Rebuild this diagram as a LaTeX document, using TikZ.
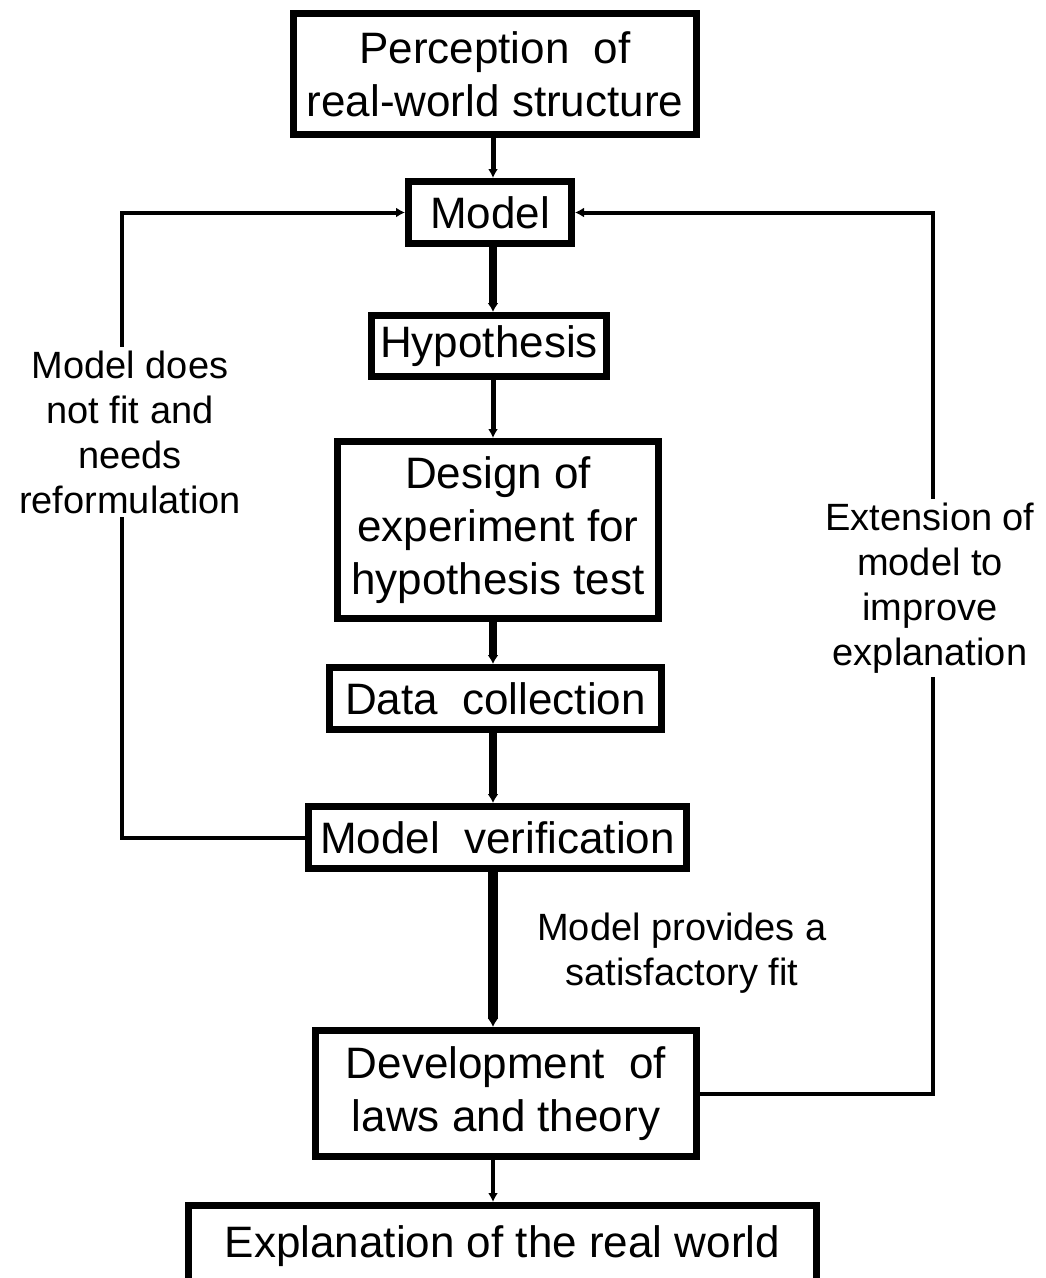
\documentclass[tikz,border=0pt]{standalone}
\usepackage{fontspec}
\setmainfont{Liberation Sans}
\usepackage{tikz}
\usetikzlibrary{arrows.meta,positioning,calc}

\begin{document}
\begin{tikzpicture}[
  x=1pt, y=-1pt,
  box/.style={draw, line width=7pt, align=center, inner sep=0pt,
    font=\fontsize{44}{53}\selectfont},
  note/.style={align=center, fill=white, inner sep=4pt,
    font=\fontsize{38}{45}\selectfont},
  heavy/.style={-{Latex[length=9pt,width=11pt]}, line width=8pt},
  light/.style={-{Latex[length=9pt,width=10pt]}, line width=5pt},
  loopline/.style={-{Latex[length=9pt,width=10pt]}, line width=4pt}
]
\useasboundingbox (0,0) rectangle (1046,1278);

% Boxes
\node[box, minimum width=403pt, minimum height=121pt] (perc) at (495,74)
  {Perception\ \ of\\real-world structure};
\node[box, minimum width=163pt, minimum height=62pt] (model) at (490,212.5) {Model};
\node[box, minimum width=235pt, minimum height=61pt] (hyp) at (489,346) {Hypothesis};
\node[box, minimum width=321pt, minimum height=177pt] (design) at (498,530)
  {Design of\\experiment for\\hypothesis test};
\node[box, minimum width=332pt, minimum height=62pt] (data) at (495.5,698.5)
  {Data\ \ collection};
\node[box, minimum width=378pt, minimum height=62pt] (verif) at (497.5,837.5)
  {Model\ \ verification};
\node[box, minimum width=381pt, minimum height=126pt] (dev) at (506,1093.5)
  {Development\ \ of\\laws and theory};
\node[box, minimum width=628pt, minimum height=81pt] (expl) at (502.5,1246)
  {Explanation of the real world};

% Main line
\coordinate (spine) at (493,0);
\draw[light] (perc.south -| spine) -- (model.north -| spine);
\draw[heavy] (model.south -| spine) -- (hyp.north -| spine);
\draw[light] (hyp.south -| spine) -- (design.north -| spine);
\draw[heavy] (design.south -| spine) -- (data.north -| spine);
\draw[heavy] (data.south -| spine) -- (verif.north -| spine);
\draw[heavy, line width=10pt] (verif.south -| spine) -- (dev.north -| spine);
\draw[light, line width=4pt] (dev.south -| spine) -- (expl.north -| spine);

% Feedback loops
\coordinate (leftx) at (122,0);
\coordinate (rightx) at (933,0);
\draw[loopline] (verif.west) -| (leftx |- model.west) -- (model.west);
\draw[loopline] (dev.east) -| (rightx |- model.east) -- (model.east);

% Labels
\node[note] (refit) at (130,432) {Model does\\not fit and\\needs\\reformulation};
\node[note] (extend) at (930,588) {Extension of\\model to\\improve\\explanation};
\node[note, fill=none] (fit) at (682,953) {Model provides a\\satisfactory fit};

\end{tikzpicture}
\end{document}
